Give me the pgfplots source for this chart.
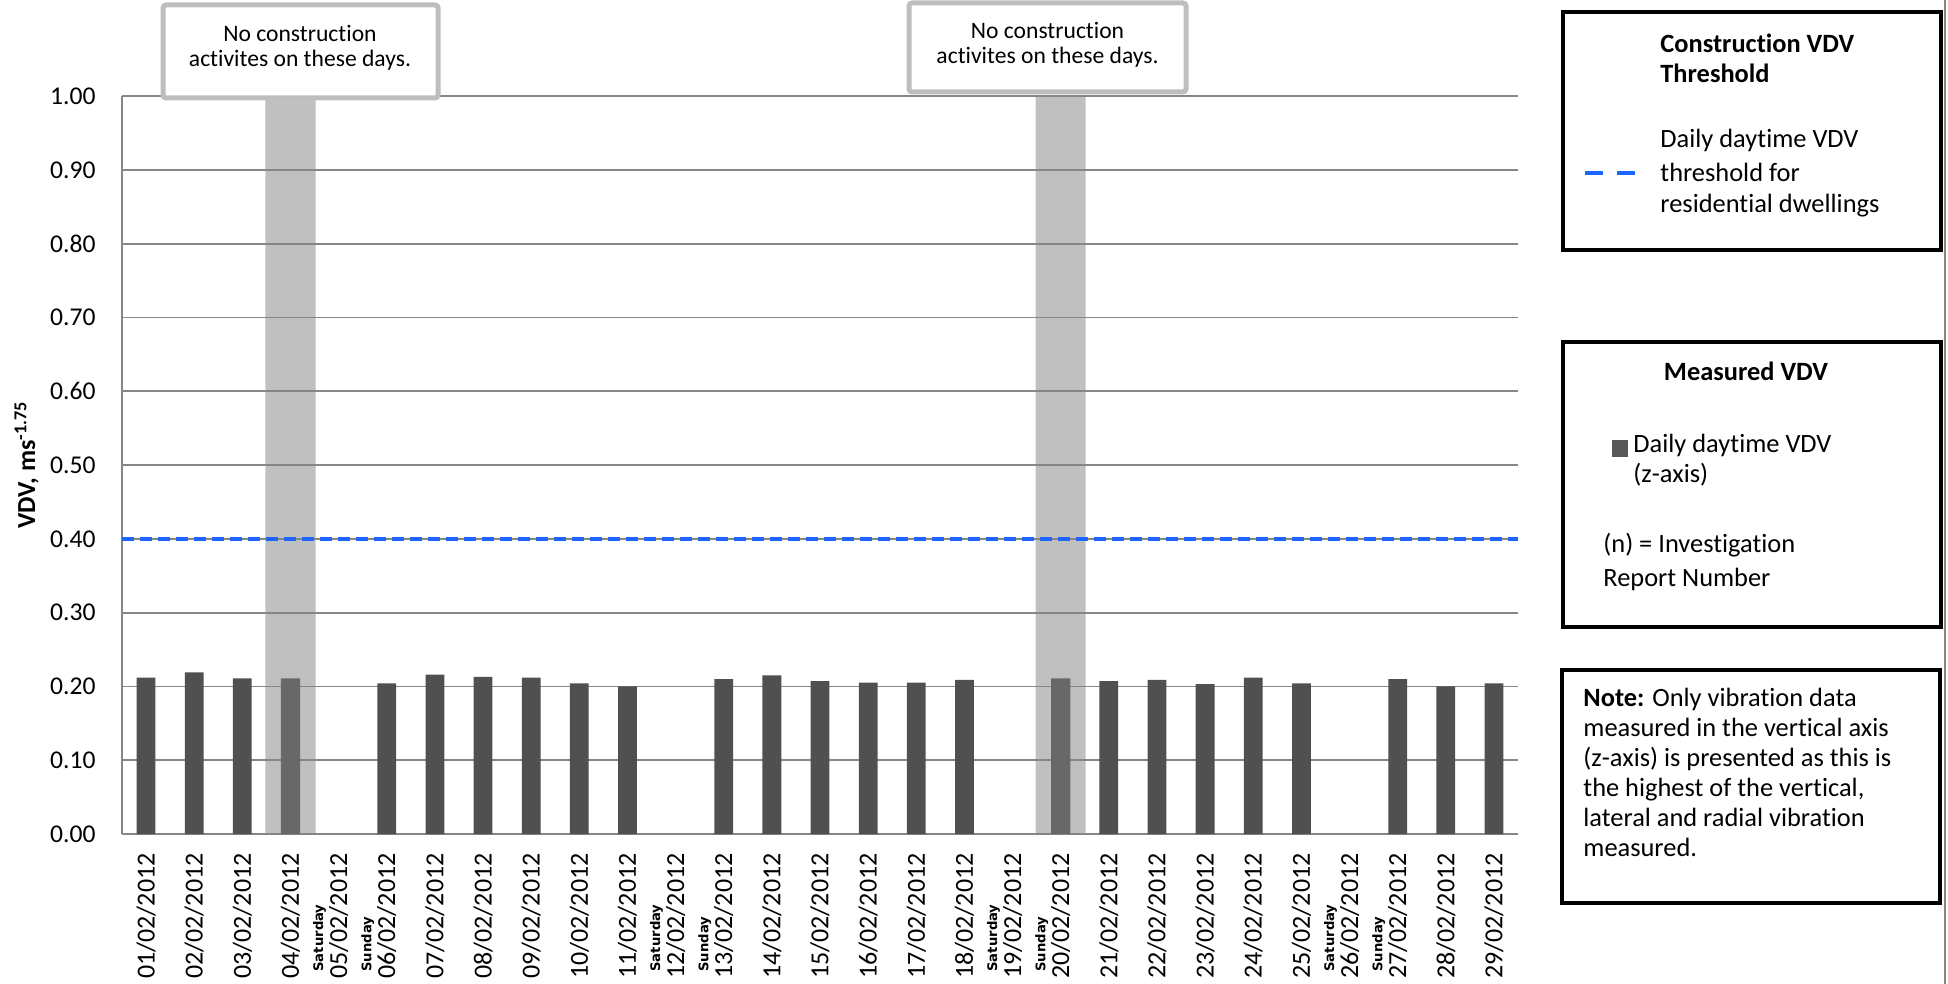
\documentclass[border=0pt]{standalone}
\usepackage{fontspec}
\setmainfont{Carlito}[Ligatures=NoCommon]
\newfontfamily\dejavu{DejaVu Sans}
\usepackage{pgfplots}
\pgfplotsset{compat=1.18}
\definecolor{bardark}{RGB}{80,80,80}
\definecolor{barlight}{RGB}{104,104,104}
\definecolor{band}{RGB}{192,192,192}
\definecolor{gridgray}{RGB}{134,134,134}
\definecolor{thrblue}{RGB}{30,100,255}
\definecolor{boxgray}{RGB}{190,190,190}
\definecolor{legsq}{RGB}{89,89,89}
\begin{document}
\begin{tikzpicture}
\begin{axis}[
  set layers,
  scale only axis, width=698pt, height=369pt,
  at={(61pt,-417pt)}, anchor=south west,
  xmin=-0.5, xmax=28.5, ymin=0, ymax=1,
  xtick={0,...,28},
  xticklabels={01/02/2012,02/02/2012,03/02/2012,04/02/2012,05/02/2012,06/02/2012,07/02/2012,08/02/2012,09/02/2012,10/02/2012,11/02/2012,12/02/2012,13/02/2012,14/02/2012,15/02/2012,16/02/2012,17/02/2012,18/02/2012,19/02/2012,20/02/2012,21/02/2012,22/02/2012,23/02/2012,24/02/2012,25/02/2012,26/02/2012,27/02/2012,28/02/2012,29/02/2012},
  ytick={0,0.1,0.2,0.3,0.4,0.5,0.6,0.7,0.8,0.9,1.0},
  yticklabel={\pgfmathprintnumber[fixed, fixed zerofill, precision=2]{\tick}},
  /pgf/number format/assume math mode=true,
  ymajorgrids, major grid style={gridgray, line width=0.9pt},
  axis x line=bottom, axis y line=left,
  axis line style={-, gridgray, line width=0.9pt},
  major tick length=0pt,
  xticklabel style={yshift=-9.5pt, rotate=90, anchor=east, inner sep=0pt, font=\fontsize{13}{15}\selectfont},
  yticklabel style={inner sep=0pt, xshift=-13pt, anchor=east, font=\fontsize{12.8}{15}\selectfont},
  ylabel={VDV, ms\textsuperscript{-1.75}},
  every axis y label/.style={at={(axis description cs:0,0.5)}, xshift=-47.7pt, rotate=90, anchor=center, font=\fontsize{13}{15}\selectfont\bfseries},
]
% grey bands: days with no construction activities
\addplot[on layer=axis background, ybar, bar shift=0pt, bar width=1.04, fill=band, draw=none] coordinates {(3,1) (19,1)};
% measured daily daytime VDV (z-axis)
\addplot[ybar, bar shift=0pt, bar width=0.39, fill=bardark, draw=none] coordinates {
 (0,0.212) (1,0.219) (2,0.211) (5,0.204) (6,0.216) (7,0.213) (8,0.212) (9,0.204)
 (10,0.200) (12,0.210) (13,0.215) (14,0.207) (15,0.205) (16,0.205) (17,0.209)
 (20,0.207) (21,0.209) (22,0.203) (23,0.212) (24,0.204) (26,0.210) (27,0.200) (28,0.204)};
\addplot[ybar, bar shift=0pt, bar width=0.40, fill=barlight, draw=none] coordinates {(3,0.211) (19,0.211)};
% threshold
\addplot[thrblue, line width=2pt, dash pattern=on 6pt off 3pt] coordinates {(-0.5,0.4) (28.5,0.4)};
\coordinate (w4) at (axis cs:4,0);
\coordinate (w5) at (axis cs:5,0);
\coordinate (w11) at (axis cs:11,0);
\coordinate (w12) at (axis cs:12,0);
\coordinate (w18) at (axis cs:18,0);
\coordinate (w19) at (axis cs:19,0);
\coordinate (w25) at (axis cs:25,0);
\coordinate (w26) at (axis cs:26,0);
\end{axis}
% weekday labels
\foreach \c/\t in {w4/Saturday,w5/Sunday,w11/Saturday,w12/Sunday,w18/Saturday,w19/Sunday,w25/Saturday,w26/Sunday}
  \node[font=\fontsize{6.6}{8}\selectfont\dejavu\bfseries, rotate=90, anchor=west, inner sep=0pt] at ([xshift=-9.5pt,yshift=-69pt]\c) {\t};
% annotation boxes
\draw[boxgray, line width=2.5pt, fill=white, rounded corners=1.5pt] (81.5pt,-2.5pt) rectangle (219pt,-49pt);
\node[anchor=base, font=\fontsize{11.8}{13}\selectfont, inner sep=0pt] at (150pt,-21pt) {No construction};
\node[anchor=base, font=\fontsize{11.8}{13}\selectfont, inner sep=0pt] at (150pt,-33.5pt) {activites on these days.};
\draw[boxgray, line width=2.5pt, fill=white, rounded corners=1.5pt] (454.5pt,-1.5pt) rectangle (593pt,-46pt);
\node[anchor=base, font=\fontsize{11.8}{13}\selectfont, inner sep=0pt] at (523.75pt,-19.5pt) {No construction};
\node[anchor=base, font=\fontsize{11.8}{13}\selectfont, inner sep=0pt] at (523.75pt,-32pt) {activites on these days.};
% right edge line
\draw[gridgray, line width=0.7pt] (972.5pt,0pt) -- (972.5pt,-492pt);
% legend box 1
\draw[line width=2pt] (781.5pt,-6pt) rectangle (970.5pt,-125pt);
\begin{scope}[every node/.style={anchor=base west, inner sep=0pt, font=\fontsize{13.2}{15}\selectfont}]
\node[font=\fontsize{13.2}{15}\selectfont\bfseries] at (830pt,-26.5pt) {Construction VDV};
\node[font=\fontsize{13.2}{15}\selectfont\bfseries] at (830pt,-41.5pt) {Threshold};
\node at (830pt,-74pt) {Daily daytime VDV};
\node at (830pt,-91pt) {threshold for};
\node at (830pt,-106.5pt) {residential dwellings};
\end{scope}
\draw[thrblue, line width=2pt, dash pattern=on 9pt off 7pt] (792.5pt,-86.5pt) -- (818.5pt,-86.5pt);
% legend box 2
\draw[line width=2pt] (781.5pt,-171pt) rectangle (970.5pt,-313.5pt);
\node[anchor=base, inner sep=0pt, font=\fontsize{13.2}{15}\selectfont\bfseries] at (873pt,-190pt) {Measured VDV};
\fill[legsq] (806pt,-220pt) rectangle (814pt,-228.5pt);
\begin{scope}[every node/.style={anchor=base west, inner sep=0pt, font=\fontsize{13.2}{15}\selectfont}]
\node at (816.5pt,-226pt) {Daily daytime VDV};
\node at (816.5pt,-241pt) {(z-axis)};
\node at (801.5pt,-276pt) {(n) = Investigation};
\node at (801.5pt,-293.3pt) {Report Number};
\end{scope}
% legend box 3
\draw[line width=2pt] (781pt,-335pt) rectangle (970pt,-451.5pt);
\begin{scope}[every node/.style={anchor=base west, inner sep=0pt, font=\fontsize{13.2}{15}\selectfont}]
\node at (791.5pt,-353.3pt) {\textbf{Note:} Only vibration data};
\node at (791.5pt,-368.3pt) {measured in the vertical axis};
\node at (791.5pt,-383.3pt) {(z-axis) is presented as this is};
\node at (791.5pt,-398.3pt) {the highest of the vertical,};
\node at (791.5pt,-413.3pt) {lateral and radial vibration};
\node at (791.5pt,-428.3pt) {measured.};
\end{scope}
\pgfresetboundingbox
\path[use as bounding box] (0,0) rectangle (974pt,-492pt);
\end{tikzpicture}
\end{document}
